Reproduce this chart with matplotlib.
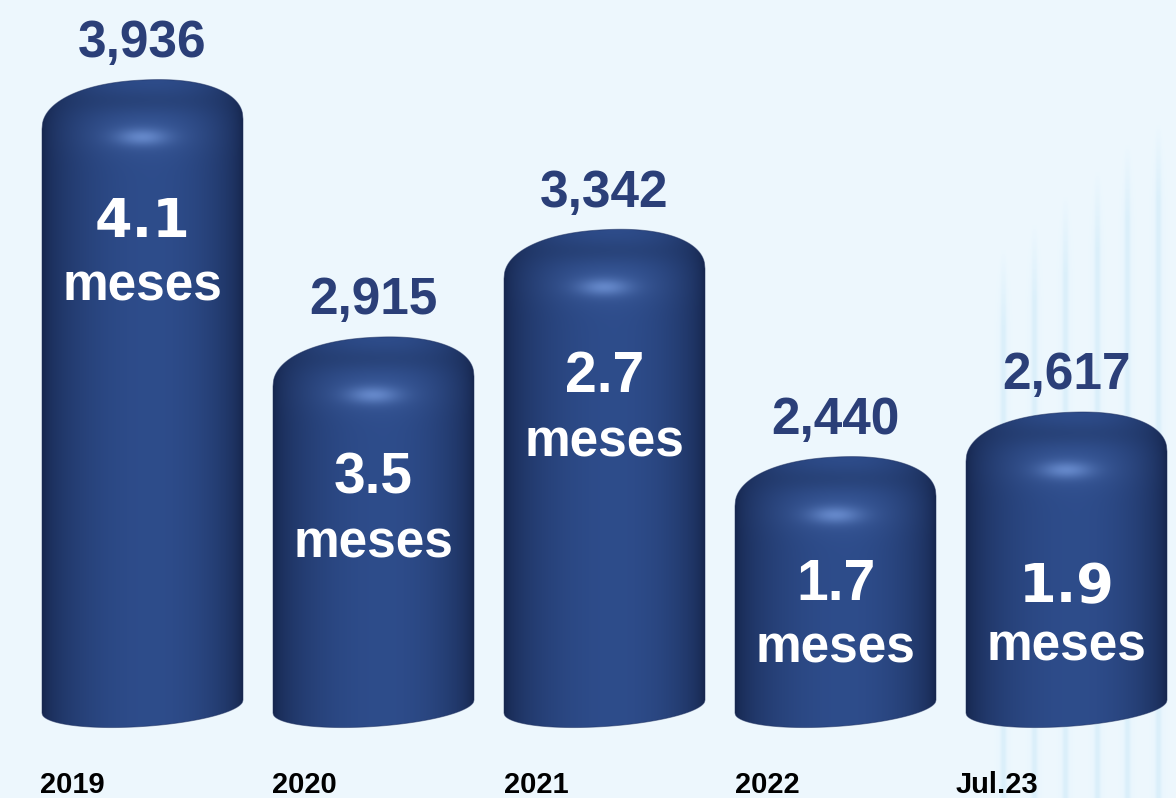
import numpy as np
import matplotlib
matplotlib.use("Agg")
import matplotlib.pyplot as plt
from matplotlib.patches import Polygon

# ---- data -------------------------------------------------------------
categories = ["2019", "2020", "2021", "2022", "Jul.23"]
units = [3936, 2915, 3342, 2440, 2617]          # value shown above each cylinder
months = [4.1, 3.5, 2.7, 1.7, 1.9]              # "meses" shown inside each cylinder

# ---- layout / style ---------------------------------------------------
W_PX, H_PX = 1176, 798
STEP_PX = 231.0            # horizontal pixels between category centres
FIRST_PX = 142.5           # pixel x of the first category centre
YLIM = (1087.0, 4253.5)
BASE = 1450.0              # value level of the cylinders' bottom midline
BAR_W = 0.87
CAP_PX, CAP_P, CAP_SKEW = 44.0, 2.2, 5.0
BOT_DEPTH, BOT_SKEW = 20.0, 6.5

NAVY = "#2B3F78"
DARK = np.array([0.080, 0.140, 0.290])
LIGHT = np.array([0.180, 0.300, 0.545])
BG = np.array([0.933, 0.972, 0.996])
STRIPE = np.array([0.815, 0.920, 0.975])

# inner label placement (pixels below the cylinder peak)
num_drop = [157, 156, 162, 143, 190]
meses_gap = [63, 64, 65, 62, 58]
num_font = ["DejaVu Sans", "Liberation Sans", "Liberation Sans", "Liberation Sans", "DejaVu Sans"]
num_size = {"DejaVu Sans": 39, "Liberation Sans": 41}
year_dx = [-2, -1, 0, 0, -10]

PT = 72.0 / 100.0  # points per pixel

fig = plt.figure(figsize=(W_PX / 100, H_PX / 100), dpi=100)
ax = fig.add_axes([0, 0, 1, 1])
xlim = (-FIRST_PX / STEP_PX, (W_PX - FIRST_PX) / STEP_PX)
ax.set_xlim(xlim)
ax.set_ylim(YLIM)
ax.axis("off")
k = H_PX / (YLIM[1] - YLIM[0])       # pixels per value unit

# ---- background with soft vertical light stripes ----------------------
bg = np.ones((H_PX, W_PX, 3)) * BG
cols = np.arange(W_PX)[None, :]
rows = np.arange(H_PX)[:, None]
for sx, sy in zip([1003, 1034, 1065, 1097, 1127, 1158], [245, 220, 192, 167, 140, 120]):
    core = np.exp(-0.5 * ((cols - sx) / 1.8) ** 2)
    glow = 0.3 * np.exp(-0.5 * ((cols - sx) / 5.0) ** 2)
    fade = np.clip((rows - sy) / 80.0, 0, 1)
    a = np.clip(core + glow, 0, 1) * fade * 0.6
    bg = bg * (1 - a[..., None]) + STRIPE * a[..., None]
ax.imshow(bg, extent=(xlim[0], xlim[1], YLIM[0], YLIM[1]), aspect="auto",
          zorder=0, interpolation="bilinear")


def cylinder(xc, top):
    hw = BAR_W / 2
    t = np.linspace(-1, 1, 301)
    cap = CAP_PX * (1 - (1 - np.abs(t) ** CAP_P) ** (1 / CAP_P))
    y_top = top - cap / k + CAP_SKEW * t / k
    y_bot = BASE - BOT_DEPTH * np.sqrt(np.clip(1 - t ** 2, 0, 1)) / k + BOT_SKEW * t / k
    xs = xc + t * hw
    outline = np.vstack([np.column_stack([xs, y_top]),
                         np.column_stack([xs[::-1], y_bot[::-1]])])
    poly = Polygon(outline, closed=True, facecolor="none",
                   edgecolor=(0.10, 0.17, 0.36, 0.5), lw=0.7, zorder=3)
    ax.add_patch(poly)

    # shaded fill
    pad = 8.0
    y_hi = top + pad / k
    y_lo = BASE - (BOT_DEPTH + pad + BOT_SKEW) / k
    nr = int(round((y_hi - y_lo) * k))
    nc = int(round(BAR_W * STEP_PX))
    tt = np.linspace(-1, 1, nc)[None, :]
    dy = (np.arange(nr) + 0.5 - pad)[:, None]     # pixels below the peak
    u = np.where(tt < 0.1, (tt - 0.1) / 1.1, (tt - 0.1) / 0.9)
    f = np.cos(0.5 * np.pi * np.clip(u, -1, 1)) ** 0.55
    img = DARK + (LIGHT - DARK) * f[..., None]
    img = np.broadcast_to(img, (nr, nc, 3)).copy()
    # darker rim of the top face
    rim = 0.12 * np.exp(-0.5 * ((dy - 22) / 9.0) ** 2) * np.exp(-0.5 * (tt / 0.6) ** 2)
    img *= (1 - rim[..., None])
    # specular highlight below the dome
    hl = 0.7 * np.exp(-0.5 * ((dy - 58) / 6.0) ** 2) * np.exp(-0.5 * (tt / 0.18) ** 2)
    glow = 0.18 * np.exp(-0.5 * ((dy - 56) / 14.0) ** 2) * np.exp(-0.5 * (tt / 0.42) ** 2)
    hcol = np.array([0.42, 0.56, 0.82])
    a = np.clip(hl + glow, 0, 1)[..., None]
    img = img * (1 - a) + hcol * a
    im = ax.imshow(img, extent=(xc - hw, xc + hw, y_lo, y_hi), aspect="auto",
                   origin="upper", zorder=2, interpolation="bilinear")
    im.set_clip_path(poly)


for i, (v, m) in enumerate(zip(units, months)):
    cylinder(i, v)
    ax.annotate(f"{v:,}", xy=(i, v), xytext=(0, 23 * PT), textcoords="offset points",
                ha="center", va="baseline", fontsize=37, fontweight="bold",
                family="Liberation Sans", color=NAVY, zorder=5)
    fam = num_font[i]
    ax.annotate(f"{m:.1f}", xy=(i, v), xytext=(0, -num_drop[i] * PT),
                textcoords="offset points", ha="center", va="baseline",
                fontsize=num_size[fam], fontweight="bold", family=fam,
                color="white", zorder=5)
    ax.annotate("meses", xy=(i, v), xytext=(0, -(num_drop[i] + meses_gap[i]) * PT),
                textcoords="offset points", ha="center", va="baseline",
                fontsize=37, fontweight="bold", family="Liberation Sans",
                color="white", zorder=5)
    ax.text(i - BAR_W / 2 + year_dx[i] / STEP_PX, 5.0 / H_PX, categories[i],
            transform=ax.get_xaxis_transform(), ha="left", va="baseline",
            fontsize=21, fontweight="bold", family="Liberation Sans",
            color="black", zorder=5)

fig.savefig("out.png", dpi=100)
